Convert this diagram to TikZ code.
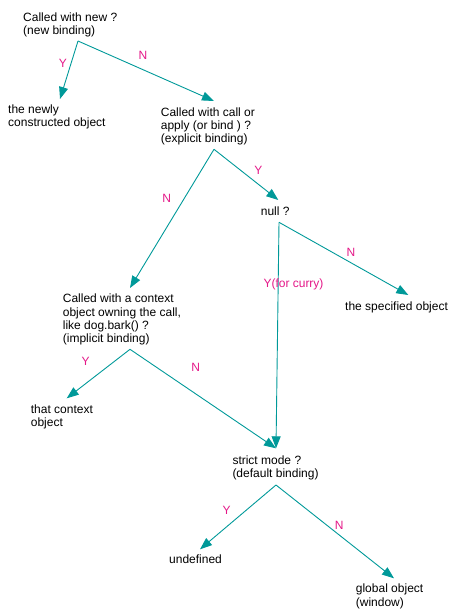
\documentclass[tikz,border=0pt]{standalone}
\usepackage{fontspec}
\setmainfont{Liberation Sans}
\usetikzlibrary{arrows.meta}
\definecolor{branchteal}{RGB}{0,153,153}
\definecolor{answerpink}{RGB}{228,24,136}
\begin{document}
\begin{tikzpicture}[x=1pt, y=-1pt,
    font=\fontsize{12}{13.3}\selectfont,
    txt/.style={align=left, anchor=base west, inner sep=0pt},
    lbl/.style={text=answerpink, inner sep=0pt},
    branch/.style={draw=branchteal, line width=0.9pt, -{Triangle[length=12pt, width=9pt]}}]
    \useasboundingbox (0,0) rectangle (454,616);
    % questions and answers (placed at the baseline of their last line)
    \node[txt] (new) at (23,34.3) {Called with new ?\\(new binding)};
    \node[txt] (newobj) at (8,126.7) {the newly\\constructed object};
    \node[txt] (callapply) at (160.7,142.7) {Called with call or\\apply (or bind ) ?\\(explicit binding)};
    \node[txt] (null) at (260.7,215) {null ?};
    \node[txt] (specified) at (345,310) {the specified object};
    \node[txt] (context) at (62.7,342.7) {Called with a context\\object owning the call,\\like dog.bark() ?\\(implicit binding)};
    \node[txt] (thatobj) at (30.7,426.7) {that context\\object};
    \node[txt] (strict) at (232.3,477.7) {strict mode ?\\(default binding)};
    \node[txt] (undef) at (169,563.3) {undefined};
    \node[txt] (global) at (355.7,606) {global object\\(window)};
    % where the branches start and end
    \coordinate (new-s) at (78,41);
    \coordinate (callapply-s) at (214,149.3);
    \coordinate (null-s) at (279,222.3);
    \coordinate (context-s) at (130,349.3);
    \coordinate (strict-s) at (276,485);
    \coordinate (newobj-t) at (60,99);
    \coordinate (callapply-t) at (214,101);
    \coordinate (null-t) at (278.3,200);
    \coordinate (context-t) at (130,288);
    \coordinate (specified-t) at (408.3,295);
    \coordinate (thatobj-t) at (66.7,398.3);
    \coordinate (strict-t) at (276,448.3);
    \coordinate (undef-t) at (200,549.3);
    \coordinate (global-t) at (394,578.3);
    \draw[branch] (new-s) -- (newobj-t);
    \draw[branch] (new-s) -- (callapply-t);
    \draw[branch] (callapply-s) -- (null-t);
    \draw[branch] (callapply-s) -- (context-t);
    \draw[branch] (null-s) -- (specified-t);
    \draw[branch] (null-s) -- (strict-t);
    \draw[branch] (context-s) -- (thatobj-t);
    \draw[branch] (context-s) -- (strict-t);
    \draw[branch] (strict-s) -- (undef-t);
    \draw[branch] (strict-s) -- (global-t);
    % Y / N
    \node[lbl] (y1) at (63,63) {Y};
    \node[lbl] (n1) at (143,55) {N};
    \node[lbl] (y2) at (258.3,170) {Y};
    \node[lbl] (n2) at (166.7,198.3) {N};
    \node[lbl] (n3) at (351,252.7) {N};
    \node[lbl, anchor=base west] (y3) at (263.3,287) {Y(for curry)};
    \node[lbl] (y4) at (85.7,361) {Y};
    \node[lbl] (n4) at (195.7,367.7) {N};
    \node[lbl] (y5) at (226.7,510) {Y};
    \node[lbl] (n5) at (339.3,525) {N};
\end{tikzpicture}
\end{document}
